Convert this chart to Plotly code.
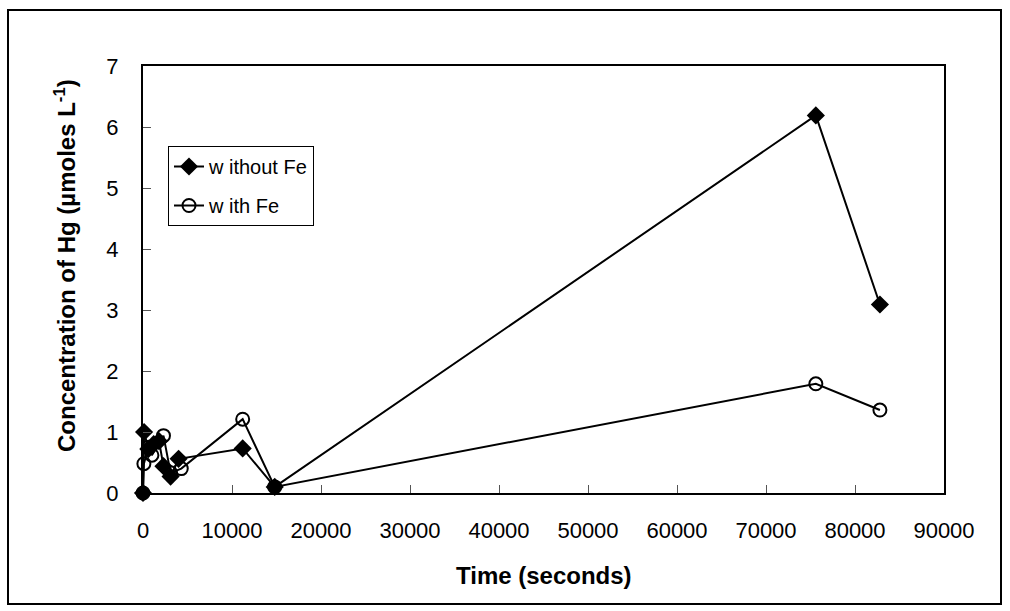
import plotly.graph_objects as go

# ---- data ----
time_without_fe = [0, 120, 600, 1200, 1800, 2300, 3100, 4000, 11200, 14800, 75600, 82800]
conc_without_fe = [0, 1.00, 0.72, 0.80, 0.85, 0.44, 0.27, 0.56, 0.73, 0.10, 6.19, 3.09]

time_with_fe = [0, 100, 600, 1000, 2300, 3100, 4300, 11200, 14800, 75600, 82800]
conc_with_fe = [0, 0.48, 0.75, 0.62, 0.94, 0.33, 0.40, 1.21, 0.10, 1.79, 1.36]

x_ticks = [0, 10000, 20000, 30000, 40000, 50000, 60000, 70000, 80000, 90000]
y_ticks = [0, 1, 2, 3, 4, 5, 6, 7]

series_names = ["w ithout Fe", "w ith Fe"]

FONT = "Liberation Sans, Arial, sans-serif"

# plot area geometry (pixels)
W, H = 1010, 611
L, R, T, B = 143, 66, 66, 118
pw, ph = W - L - R, H - T - B


def px(xp):
    return (xp - L) / pw


def py(yp):
    return (H - B - yp) / ph


fig = go.Figure()
fig.add_trace(go.Scatter(
    x=time_without_fe, y=conc_without_fe, name=series_names[0],
    mode="lines+markers", cliponaxis=False, legendgroup="a",
    line=dict(color="black", width=2),
    marker=dict(symbol="diamond", size=14, color="black"),
))
fig.add_trace(go.Scatter(
    x=time_with_fe, y=conc_with_fe, name=series_names[1],
    mode="lines+markers", cliponaxis=False, legendgroup="b",
    line=dict(color="black", width=2),
    marker=dict(symbol="circle-open", size=13, color="black", line=dict(width=2, color="black")),
))

axis_common = dict(
    showline=True, linecolor="black", linewidth=2, mirror=True,
    ticks="inside", ticklen=8, tickwidth=1, tickcolor="#555555",
    showgrid=False, zeroline=False,
    tickfont=dict(family=FONT, size=22, color="black"),
)

fig.update_xaxes(range=[0, 90000], tickvals=x_ticks, tickformat="d",
                 ticklabelstandoff=17, **axis_common)
fig.update_yaxes(range=[0, 7], tickvals=y_ticks, ticklabelstandoff=18, **axis_common)

fig.add_annotation(
    text="<b>Time (seconds)</b>", xref="paper", yref="paper",
    x=0.5, y=py(575), xanchor="center", yanchor="middle", showarrow=False,
    font=dict(family=FONT, size=24, color="black"),
)
fig.add_annotation(
    text="<b>Concentration of Hg (µmoles L<sup>-1</sup>)</b>", xref="paper", yref="paper",
    x=px(65), y=py(266), xanchor="center", yanchor="middle", showarrow=False,
    textangle=-90, font=dict(family=FONT, size=24, color="black"),
)

# outer chart border
fig.add_shape(type="rect", xref="paper", yref="paper",
              x0=px(8), x1=px(1001), y0=py(604), y1=py(10),
              line=dict(color="black", width=2), fillcolor="rgba(0,0,0,0)")

fig.update_layout(
    width=W, height=H,
    margin=dict(l=L, r=R, t=T, b=B),
    paper_bgcolor="white", plot_bgcolor="white",
    showlegend=True,
    legend=dict(
        x=px(168), y=py(146), xanchor="left", yanchor="top",
        bgcolor="white", bordercolor="black", borderwidth=1,
        font=dict(family=FONT, size=20, color="black"),
        tracegroupgap=10,
    ),
)

fig.write_html("out.html", config={"displayModeBar": False},
               post_script="document.body.style.margin='0px';document.body.style.overflow='hidden';")
